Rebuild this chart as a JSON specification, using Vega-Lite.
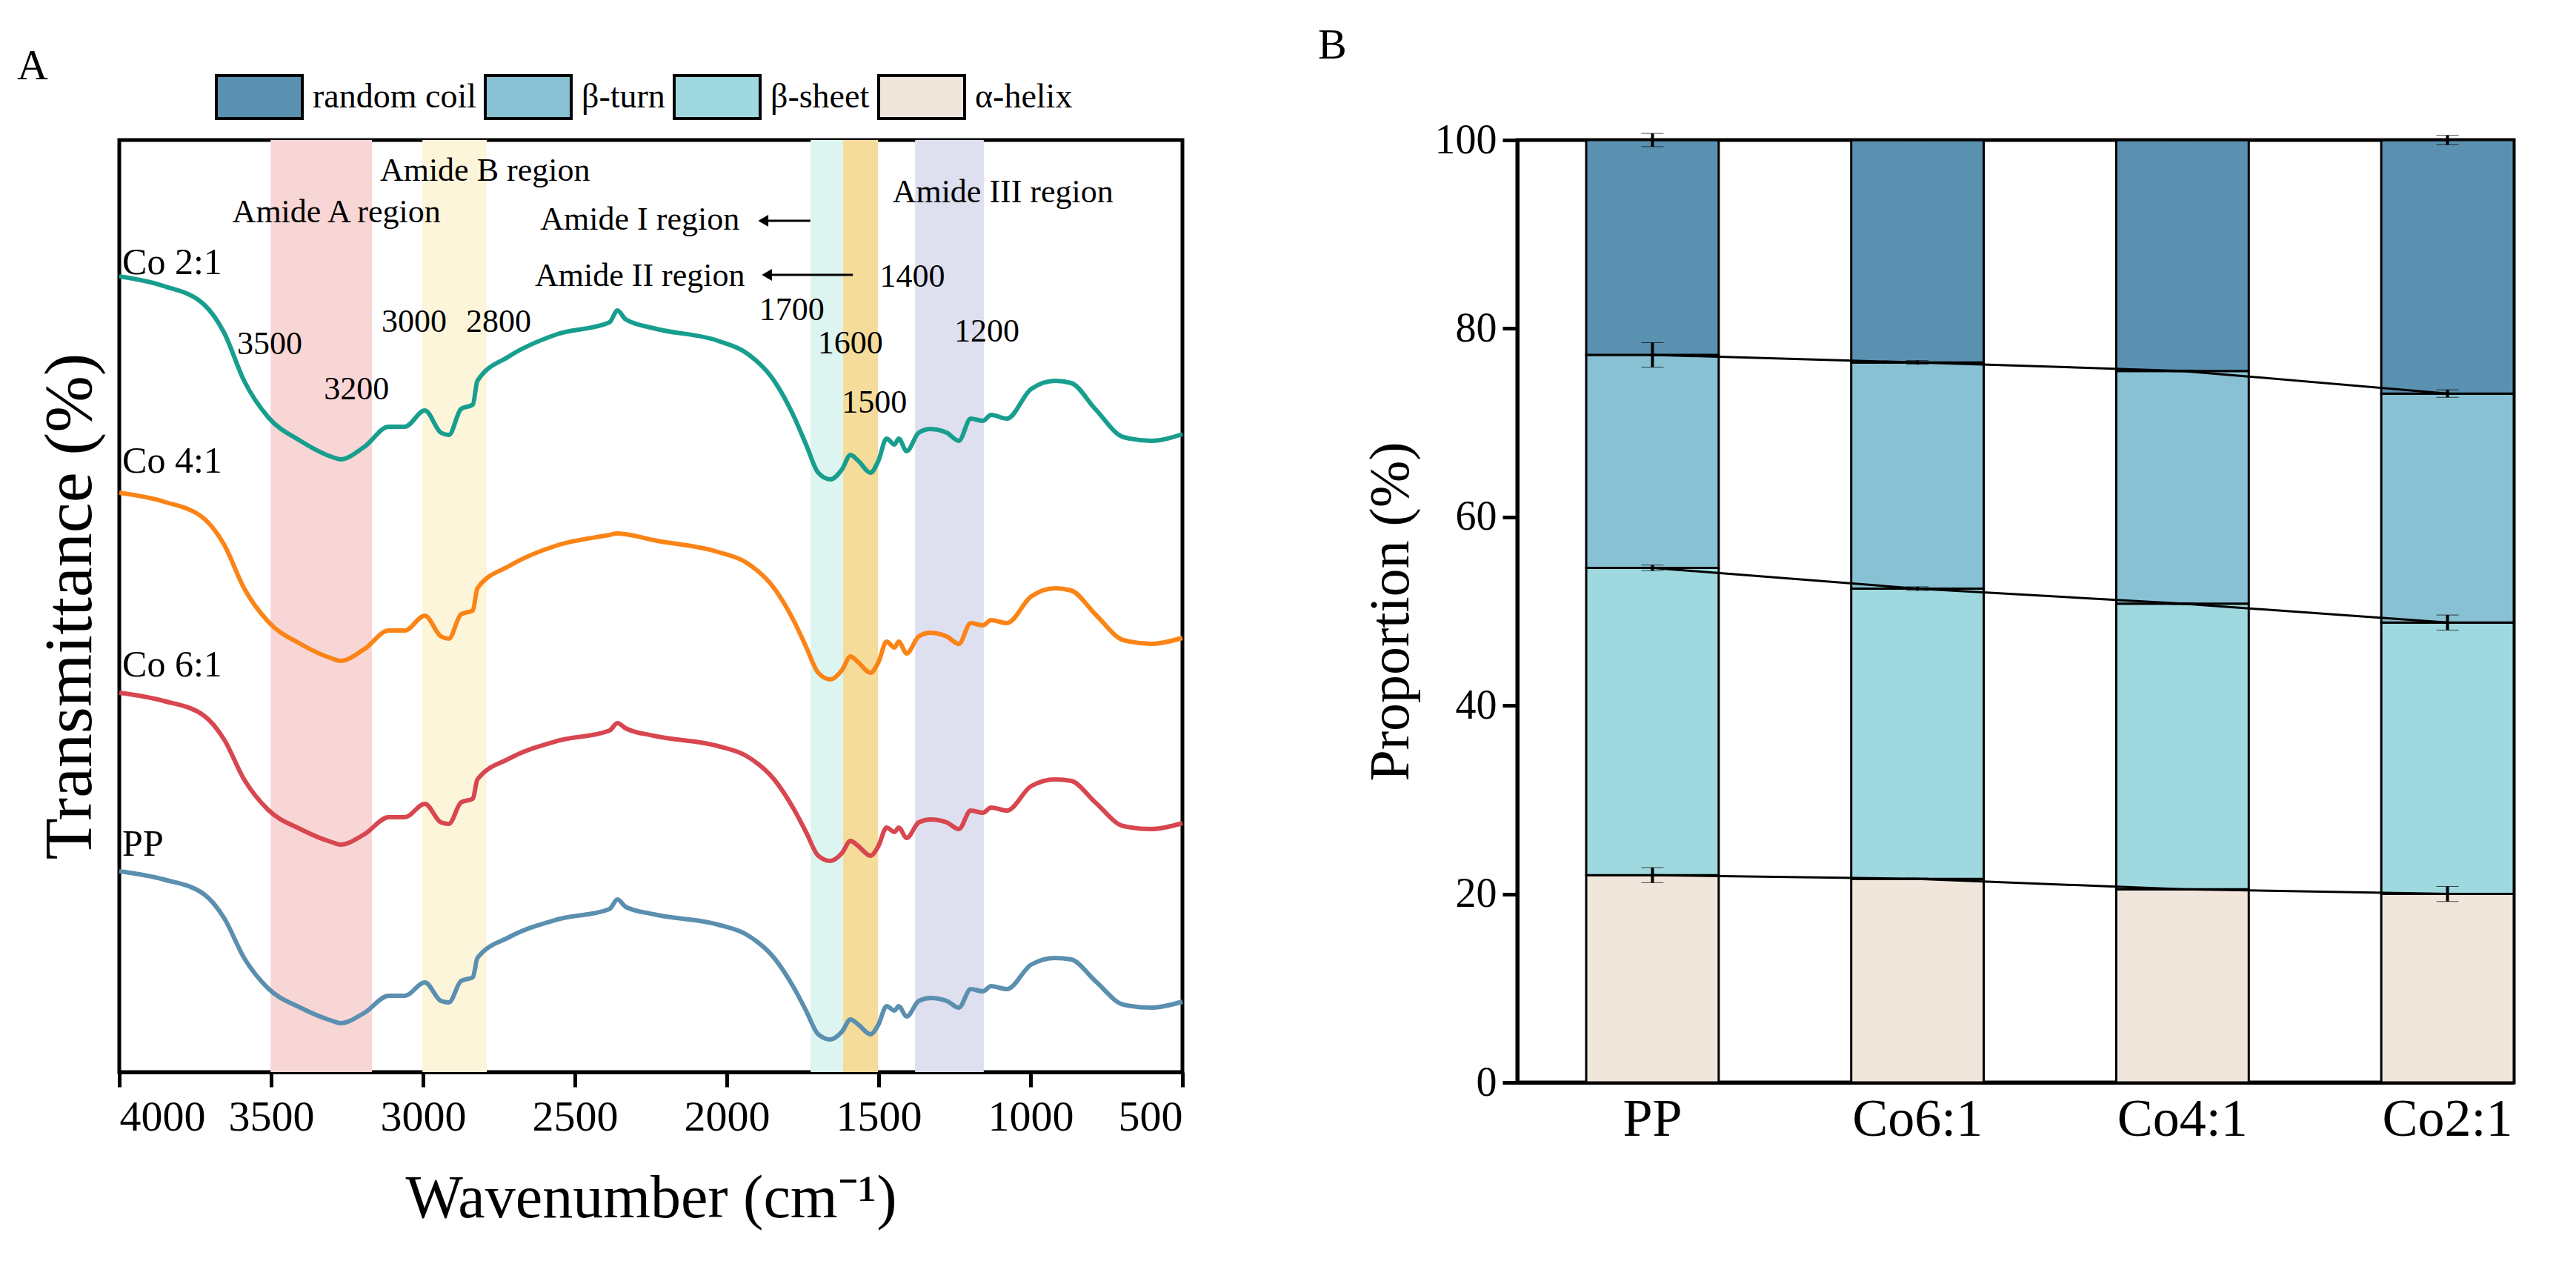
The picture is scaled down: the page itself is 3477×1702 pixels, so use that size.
{
  "$schema": "https://vega.github.io/schema/vega-lite/v6.json",
  "background": "white",
  "padding": {"left": 20, "top": 30, "right": 10, "bottom": 10},
  "spacing": 165,
  "resolve": {"scale": {"color": "independent"}},
  "config": {
    "font": "Liberation Serif",
    "view": {"stroke": "black", "strokeWidth": 5},
    "axis": {"labelFont": "Liberation Serif", "titleFont": "Liberation Serif", "titleFontWeight": "normal", "labelColor": "black", "titleColor": "black", "domainColor": "black", "tickColor": "black", "domainWidth": 5, "tickWidth": 5, "tickSize": 20, "grid": false},
    "title": {"font": "Liberation Serif", "fontWeight": "normal", "fontSize": 58, "anchor": "start", "color": "black"}
  },
  "datasets": {
    "spectra": [
      {"s":"Co 2:1","wn":4000,"t":1091},{"s":"Co 2:1","wn":3854,"t":1078},{"s":"Co 2:1","wn":3721,"t":1053},{"s":"Co 2:1","wn":3655,"t":1015},{"s":"Co 2:1","wn":3589,"t":950},{"s":"Co 2:1","wn":3510,"t":901},{"s":"Co 2:1","wn":3404,"t":869},{"s":"Co 2:1","wn":3298,"t":847},{"s":"Co 2:1","wn":3272,"t":844},{"s":"Co 2:1","wn":3193,"t":861},{"s":"Co 2:1","wn":3113,"t":888},{"s":"Co 2:1","wn":3060,"t":888},{"s":"Co 2:1","wn":2994,"t":910},{"s":"Co 2:1","wn":2941,"t":880},{"s":"Co 2:1","wn":2915,"t":877},{"s":"Co 2:1","wn":2875,"t":912},{"s":"Co 2:1","wn":2836,"t":918},{"s":"Co 2:1","wn":2821,"t":950},{"s":"Co 2:1","wn":2717,"t":983},{"s":"Co 2:1","wn":2558,"t":1013},{"s":"Co 2:1","wn":2386,"t":1029},{"s":"Co 2:1","wn":2360,"t":1045},{"s":"Co 2:1","wn":2333,"t":1033},{"s":"Co 2:1","wn":2241,"t":1021},{"s":"Co 2:1","wn":2029,"t":1004},{"s":"Co 2:1","wn":1937,"t":988},{"s":"Co 2:1","wn":1844,"t":950},{"s":"Co 2:1","wn":1778,"t":901},{"s":"Co 2:1","wn":1738,"t":863},{"s":"Co 2:1","wn":1699,"t":826},{"s":"Co 2:1","wn":1659,"t":817},{"s":"Co 2:1","wn":1620,"t":831},{"s":"Co 2:1","wn":1593,"t":850},{"s":"Co 2:1","wn":1567,"t":842},{"s":"Co 2:1","wn":1527,"t":826},{"s":"Co 2:1","wn":1501,"t":842},{"s":"Co 2:1","wn":1474,"t":872},{"s":"Co 2:1","wn":1448,"t":864},{"s":"Co 2:1","wn":1434,"t":872},{"s":"Co 2:1","wn":1408,"t":855},{"s":"Co 2:1","wn":1368,"t":880},{"s":"Co 2:1","wn":1329,"t":885},{"s":"Co 2:1","wn":1276,"t":880},{"s":"Co 2:1","wn":1236,"t":869},{"s":"Co 2:1","wn":1197,"t":899},{"s":"Co 2:1","wn":1157,"t":896},{"s":"Co 2:1","wn":1130,"t":904},{"s":"Co 2:1","wn":1078,"t":899},{"s":"Co 2:1","wn":998,"t":939},{"s":"Co 2:1","wn":919,"t":950},{"s":"Co 2:1","wn":866,"t":947},{"s":"Co 2:1","wn":787,"t":912},{"s":"Co 2:1","wn":694,"t":874},{"s":"Co 2:1","wn":602,"t":869},{"s":"Co 2:1","wn":500,"t":878},
      {"s":"Co 4:1","wn":4000,"t":799},{"s":"Co 4:1","wn":3854,"t":787},{"s":"Co 4:1","wn":3721,"t":764},{"s":"Co 4:1","wn":3655,"t":729},{"s":"Co 4:1","wn":3589,"t":670},{"s":"Co 4:1","wn":3510,"t":625},{"s":"Co 4:1","wn":3404,"t":595},{"s":"Co 4:1","wn":3298,"t":575},{"s":"Co 4:1","wn":3272,"t":572},{"s":"Co 4:1","wn":3193,"t":588},{"s":"Co 4:1","wn":3113,"t":613},{"s":"Co 4:1","wn":3060,"t":613},{"s":"Co 4:1","wn":2994,"t":633},{"s":"Co 4:1","wn":2941,"t":605},{"s":"Co 4:1","wn":2915,"t":602},{"s":"Co 4:1","wn":2875,"t":635},{"s":"Co 4:1","wn":2836,"t":640},{"s":"Co 4:1","wn":2821,"t":670},{"s":"Co 4:1","wn":2717,"t":700},{"s":"Co 4:1","wn":2558,"t":728},{"s":"Co 4:1","wn":2386,"t":742},{"s":"Co 4:1","wn":2360,"t":744},{"s":"Co 4:1","wn":2333,"t":743},{"s":"Co 4:1","wn":2241,"t":735},{"s":"Co 4:1","wn":2029,"t":719},{"s":"Co 4:1","wn":1937,"t":705},{"s":"Co 4:1","wn":1844,"t":670},{"s":"Co 4:1","wn":1778,"t":625},{"s":"Co 4:1","wn":1738,"t":590},{"s":"Co 4:1","wn":1699,"t":556},{"s":"Co 4:1","wn":1659,"t":547},{"s":"Co 4:1","wn":1620,"t":560},{"s":"Co 4:1","wn":1593,"t":578},{"s":"Co 4:1","wn":1567,"t":570},{"s":"Co 4:1","wn":1527,"t":556},{"s":"Co 4:1","wn":1501,"t":570},{"s":"Co 4:1","wn":1474,"t":598},{"s":"Co 4:1","wn":1448,"t":590},{"s":"Co 4:1","wn":1434,"t":598},{"s":"Co 4:1","wn":1408,"t":582},{"s":"Co 4:1","wn":1368,"t":605},{"s":"Co 4:1","wn":1329,"t":610},{"s":"Co 4:1","wn":1276,"t":605},{"s":"Co 4:1","wn":1236,"t":595},{"s":"Co 4:1","wn":1197,"t":623},{"s":"Co 4:1","wn":1157,"t":620},{"s":"Co 4:1","wn":1130,"t":627},{"s":"Co 4:1","wn":1078,"t":623},{"s":"Co 4:1","wn":998,"t":659},{"s":"Co 4:1","wn":919,"t":670},{"s":"Co 4:1","wn":866,"t":667},{"s":"Co 4:1","wn":787,"t":635},{"s":"Co 4:1","wn":694,"t":600},{"s":"Co 4:1","wn":602,"t":595},{"s":"Co 4:1","wn":500,"t":603},
      {"s":"Co 6:1","wn":4000,"t":529},{"s":"Co 6:1","wn":3854,"t":518},{"s":"Co 6:1","wn":3721,"t":498},{"s":"Co 6:1","wn":3655,"t":466},{"s":"Co 6:1","wn":3589,"t":412},{"s":"Co 6:1","wn":3510,"t":371},{"s":"Co 6:1","wn":3404,"t":345},{"s":"Co 6:1","wn":3298,"t":327},{"s":"Co 6:1","wn":3272,"t":324},{"s":"Co 6:1","wn":3193,"t":338},{"s":"Co 6:1","wn":3113,"t":361},{"s":"Co 6:1","wn":3060,"t":361},{"s":"Co 6:1","wn":2994,"t":379},{"s":"Co 6:1","wn":2941,"t":354},{"s":"Co 6:1","wn":2915,"t":352},{"s":"Co 6:1","wn":2875,"t":381},{"s":"Co 6:1","wn":2836,"t":386},{"s":"Co 6:1","wn":2821,"t":412},{"s":"Co 6:1","wn":2717,"t":440},{"s":"Co 6:1","wn":2558,"t":464},{"s":"Co 6:1","wn":2386,"t":478},{"s":"Co 6:1","wn":2360,"t":488},{"s":"Co 6:1","wn":2333,"t":481},{"s":"Co 6:1","wn":2241,"t":471},{"s":"Co 6:1","wn":2029,"t":457},{"s":"Co 6:1","wn":1937,"t":444},{"s":"Co 6:1","wn":1844,"t":412},{"s":"Co 6:1","wn":1778,"t":371},{"s":"Co 6:1","wn":1738,"t":340},{"s":"Co 6:1","wn":1699,"t":309},{"s":"Co 6:1","wn":1659,"t":302},{"s":"Co 6:1","wn":1620,"t":313},{"s":"Co 6:1","wn":1593,"t":329},{"s":"Co 6:1","wn":1567,"t":322},{"s":"Co 6:1","wn":1527,"t":309},{"s":"Co 6:1","wn":1501,"t":322},{"s":"Co 6:1","wn":1474,"t":347},{"s":"Co 6:1","wn":1448,"t":341},{"s":"Co 6:1","wn":1434,"t":347},{"s":"Co 6:1","wn":1408,"t":333},{"s":"Co 6:1","wn":1368,"t":354},{"s":"Co 6:1","wn":1329,"t":358},{"s":"Co 6:1","wn":1276,"t":354},{"s":"Co 6:1","wn":1236,"t":345},{"s":"Co 6:1","wn":1197,"t":370},{"s":"Co 6:1","wn":1157,"t":367},{"s":"Co 6:1","wn":1130,"t":374},{"s":"Co 6:1","wn":1078,"t":370},{"s":"Co 6:1","wn":998,"t":403},{"s":"Co 6:1","wn":919,"t":412},{"s":"Co 6:1","wn":866,"t":410},{"s":"Co 6:1","wn":787,"t":381},{"s":"Co 6:1","wn":694,"t":349},{"s":"Co 6:1","wn":602,"t":345},{"s":"Co 6:1","wn":500,"t":353},
      {"s":"PP","wn":4000,"t":288},{"s":"PP","wn":3854,"t":277},{"s":"PP","wn":3721,"t":257},{"s":"PP","wn":3655,"t":225},{"s":"PP","wn":3589,"t":171},{"s":"PP","wn":3510,"t":130},{"s":"PP","wn":3404,"t":104},{"s":"PP","wn":3298,"t":86},{"s":"PP","wn":3272,"t":83},{"s":"PP","wn":3193,"t":97},{"s":"PP","wn":3113,"t":120},{"s":"PP","wn":3060,"t":120},{"s":"PP","wn":2994,"t":138},{"s":"PP","wn":2941,"t":113},{"s":"PP","wn":2915,"t":111},{"s":"PP","wn":2875,"t":140},{"s":"PP","wn":2836,"t":145},{"s":"PP","wn":2821,"t":171},{"s":"PP","wn":2717,"t":199},{"s":"PP","wn":2558,"t":223},{"s":"PP","wn":2386,"t":237},{"s":"PP","wn":2360,"t":250},{"s":"PP","wn":2333,"t":240},{"s":"PP","wn":2241,"t":230},{"s":"PP","wn":2029,"t":216},{"s":"PP","wn":1937,"t":203},{"s":"PP","wn":1844,"t":171},{"s":"PP","wn":1778,"t":130},{"s":"PP","wn":1738,"t":99},{"s":"PP","wn":1699,"t":68},{"s":"PP","wn":1659,"t":61},{"s":"PP","wn":1620,"t":72},{"s":"PP","wn":1593,"t":88},{"s":"PP","wn":1567,"t":81},{"s":"PP","wn":1527,"t":68},{"s":"PP","wn":1501,"t":81},{"s":"PP","wn":1474,"t":106},{"s":"PP","wn":1448,"t":100},{"s":"PP","wn":1434,"t":106},{"s":"PP","wn":1408,"t":92},{"s":"PP","wn":1368,"t":113},{"s":"PP","wn":1329,"t":117},{"s":"PP","wn":1276,"t":113},{"s":"PP","wn":1236,"t":104},{"s":"PP","wn":1197,"t":129},{"s":"PP","wn":1157,"t":126},{"s":"PP","wn":1130,"t":133},{"s":"PP","wn":1078,"t":129},{"s":"PP","wn":998,"t":162},{"s":"PP","wn":919,"t":171},{"s":"PP","wn":866,"t":169},{"s":"PP","wn":787,"t":140},{"s":"PP","wn":694,"t":108},{"s":"PP","wn":602,"t":104},{"s":"PP","wn":500,"t":112}
    ],
    "regions": [
      {"name":"Amide A","from":3502,"to":3168,"c":"#f9d6d6"},
      {"name":"Amide B","from":3002,"to":2790,"c":"#fdf5da"},
      {"name":"Amide I","from":1724,"to":1617,"c":"#ddf5f0"},
      {"name":"Amide II","from":1617,"to":1502,"c":"#f5dc9a"},
      {"name":"Amide III","from":1380,"to":1154,"c":"#dedfef"}
    ],
    "notes": [
      {"label":"Amide B region","wn":2796,"t":1233},
      {"label":"Amide A region","wn":3285,"t":1177},
      {"label":"Amide I region","wn":2286,"t":1167},
      {"label":"Amide II region","wn":2286,"t":1091},
      {"label":"Amide III region","wn":1091,"t":1204},
      {"label":"3500","wn":3505,"t":999},
      {"label":"3200","wn":3219,"t":938},
      {"label":"3000","wn":3029,"t":1029},
      {"label":"2800","wn":2751,"t":1029},
      {"label":"1700","wn":1786,"t":1045},
      {"label":"1600","wn":1593,"t":1000},
      {"label":"1500","wn":1514,"t":920},
      {"label":"1400","wn":1389,"t":1090},
      {"label":"1200","wn":1144,"t":1016}
    ],
    "names": [
      {"label":"Co 2:1","wn":3990,"t":1109},
      {"label":"Co 4:1","wn":3990,"t":841},
      {"label":"Co 6:1","wn":3990,"t":566},
      {"label":"PP","wn":3990,"t":324}
    ],
    "arrows": [
      {"from":1725,"to":1880,"t":1166},
      {"from":1585,"to":1868,"t":1093}
    ],
    "structure": [
      {"sample":"PP","struct":"α-helix","k":1,"pct":22.0,"sd":0.8},
      {"sample":"PP","struct":"β-sheet","k":2,"pct":32.6,"sd":0.3},
      {"sample":"PP","struct":"β-turn","k":3,"pct":22.6,"sd":1.3},
      {"sample":"PP","struct":"random coil","k":4,"pct":22.8,"sd":0.7},
      {"sample":"Co6:1","struct":"α-helix","k":1,"pct":21.6,"sd":0.1},
      {"sample":"Co6:1","struct":"β-sheet","k":2,"pct":30.8,"sd":0.2},
      {"sample":"Co6:1","struct":"β-turn","k":3,"pct":24.0,"sd":0.2},
      {"sample":"Co6:1","struct":"random coil","k":4,"pct":23.6,"sd":0.05},
      {"sample":"Co4:1","struct":"α-helix","k":1,"pct":20.5,"sd":0.05},
      {"sample":"Co4:1","struct":"β-sheet","k":2,"pct":30.3,"sd":0.1},
      {"sample":"Co4:1","struct":"β-turn","k":3,"pct":24.7,"sd":0.1},
      {"sample":"Co4:1","struct":"random coil","k":4,"pct":24.5,"sd":0.05},
      {"sample":"Co2:1","struct":"α-helix","k":1,"pct":20.0,"sd":0.8},
      {"sample":"Co2:1","struct":"β-sheet","k":2,"pct":28.8,"sd":0.8},
      {"sample":"Co2:1","struct":"β-turn","k":3,"pct":24.3,"sd":0.4},
      {"sample":"Co2:1","struct":"random coil","k":4,"pct":26.9,"sd":0.5}
    ]
  },
  "hconcat": [
    {
      "title": {"text": "A", "offset": 70, "dx": -25},
      "width": 1435,
      "height": 1258,
      "layer": [
        {
          "data": {"name": "regions"},
          "mark": {"type": "rect"},
          "encoding": {
            "x": {"field": "from", "type": "quantitative", "scale": {"domain": [500, 4000], "reverse": true, "nice": false, "zero": false},
              "axis": {"values": [4000, 3500, 3000, 2500, 2000, 1500, 1000, 500], "format": "d", "labelFontSize": 58, "labelPadding": 12, "titleFontSize": 82, "titlePadding": 40, "title": "Wavenumber (cm⁻¹)"}},
            "x2": {"field": "to"},
            "color": {"field": "c", "type": "nominal", "scale": null}
          }
        },
        {
          "data": {"name": "spectra"},
          "mark": {"type": "line", "strokeWidth": 6, "interpolate": "monotone"},
          "encoding": {
            "x": {"field": "wn", "type": "quantitative"},
            "y": {"field": "t", "type": "quantitative", "scale": {"domain": [17, 1275], "nice": false, "zero": false},
              "axis": {"labels": false, "ticks": false, "domain": false, "title": "Transmittance (%)", "titleFontSize": 92, "titlePadding": 20}},
            "stroke": {"field": "s", "type": "nominal", "legend": null,
              "scale": {"domain": ["Co 2:1", "Co 4:1", "Co 6:1", "PP"], "range": ["#189e8e", "#fb8417", "#d8464f", "#5b8fb0"]}}
          }
        },
        {
          "data": {"name": "notes"},
          "mark": {"type": "text", "fontSize": 44, "font": "Liberation Serif", "color": "black", "align": "center", "baseline": "middle"},
          "encoding": {
            "x": {"field": "wn", "type": "quantitative"},
            "y": {"field": "t", "type": "quantitative"},
            "text": {"field": "label"}
          }
        },
        {
          "data": {"name": "names"},
          "mark": {"type": "text", "fontSize": 50, "font": "Liberation Serif", "color": "black", "align": "left", "baseline": "middle"},
          "encoding": {
            "x": {"field": "wn", "type": "quantitative"},
            "y": {"field": "t", "type": "quantitative"},
            "text": {"field": "label"}
          }
        },
        {
          "data": {"name": "arrows"},
          "mark": {"type": "rule", "strokeWidth": 3, "color": "black"},
          "encoding": {
            "x": {"field": "from", "type": "quantitative"},
            "x2": {"field": "to"},
            "y": {"field": "t", "type": "quantitative"}
          }
        },
        {
          "data": {"name": "arrows"},
          "mark": {"type": "point", "shape": "triangle-left", "filled": true, "size": 250, "color": "black", "opacity": 1},
          "encoding": {
            "x": {"field": "to", "type": "quantitative"},
            "y": {"field": "t", "type": "quantitative"}
          }
        }
      ]
    },
    {
      "title": {"text": "B", "offset": 70, "dx": -60},
      "width": 1345,
      "height": 1272,
      "data": {"name": "structure"},
      "layer": [
        {
          "mark": {"type": "bar", "stroke": "black", "strokeWidth": 3},
          "encoding": {
            "x": {"field": "sample", "type": "nominal", "sort": ["PP", "Co6:1", "Co4:1", "Co2:1"],
              "scale": {"paddingInner": 0.5, "paddingOuter": 0.13, "align": 1},
              "axis": {"title": null, "ticks": false, "labelAngle": 0, "labelFontSize": 72, "labelPadding": 14}},
            "y": {"field": "pct", "type": "quantitative", "stack": "zero", "scale": {"domain": [0, 100], "nice": false},
              "axis": {"values": [0, 20, 40, 60, 80, 100], "title": "Proportion (%)", "titleFontSize": 76, "titlePadding": 20, "labelFontSize": 56, "labelPadding": 8}},
            "order": {"field": "k", "type": "quantitative"},
            "fill": {"field": "struct", "type": "nominal",
              "scale": {"domain": ["random coil", "β-turn", "β-sheet", "α-helix"], "range": ["#5b91b0", "#89c1d4", "#9fd9df", "#f1e6dc"]},
              "legend": {"orient": "none", "legendX": 129, "legendY": -118, "direction": "horizontal", "columns": 4, "title": null,
                "symbolType": "M-1,-0.5H1V0.5H-1Z", "symbolSize": 13456, "symbolStrokeColor": "black", "symbolStrokeWidth": 4, "symbolOpacity": 1,
                "labelFont": "Liberation Serif", "labelFontSize": 46, "labelColor": "black", "labelOffset": 12, "columnPadding": 4, "labelLimit": 400}}
          }
        },
        {
          "transform": [{"window": [{"op": "sum", "field": "pct", "as": "cum"}], "groupby": ["sample"], "sort": [{"field": "k"}]}],
          "mark": {"type": "line", "color": "black", "strokeWidth": 3},
          "encoding": {
            "x": {"field": "sample", "type": "nominal", "sort": ["PP", "Co6:1", "Co4:1", "Co2:1"]},
            "y": {"field": "cum", "type": "quantitative", "title": "Proportion (%)"},
            "detail": {"field": "struct"}
          }
        },
        {
          "transform": [{"window": [{"op": "sum", "field": "pct", "as": "cum"}], "groupby": ["sample"], "sort": [{"field": "k"}]}],
          "mark": {"type": "errorbar", "ticks": {"size": 30, "strokeWidth": 4}, "color": "black", "rule": {"strokeWidth": 4}},
          "encoding": {
            "x": {"field": "sample", "type": "nominal", "sort": ["PP", "Co6:1", "Co4:1", "Co2:1"]},
            "y": {"field": "cum", "type": "quantitative", "title": "Proportion (%)"},
            "yError": {"field": "sd"}
          }
        }
      ]
    }
  ]
}
